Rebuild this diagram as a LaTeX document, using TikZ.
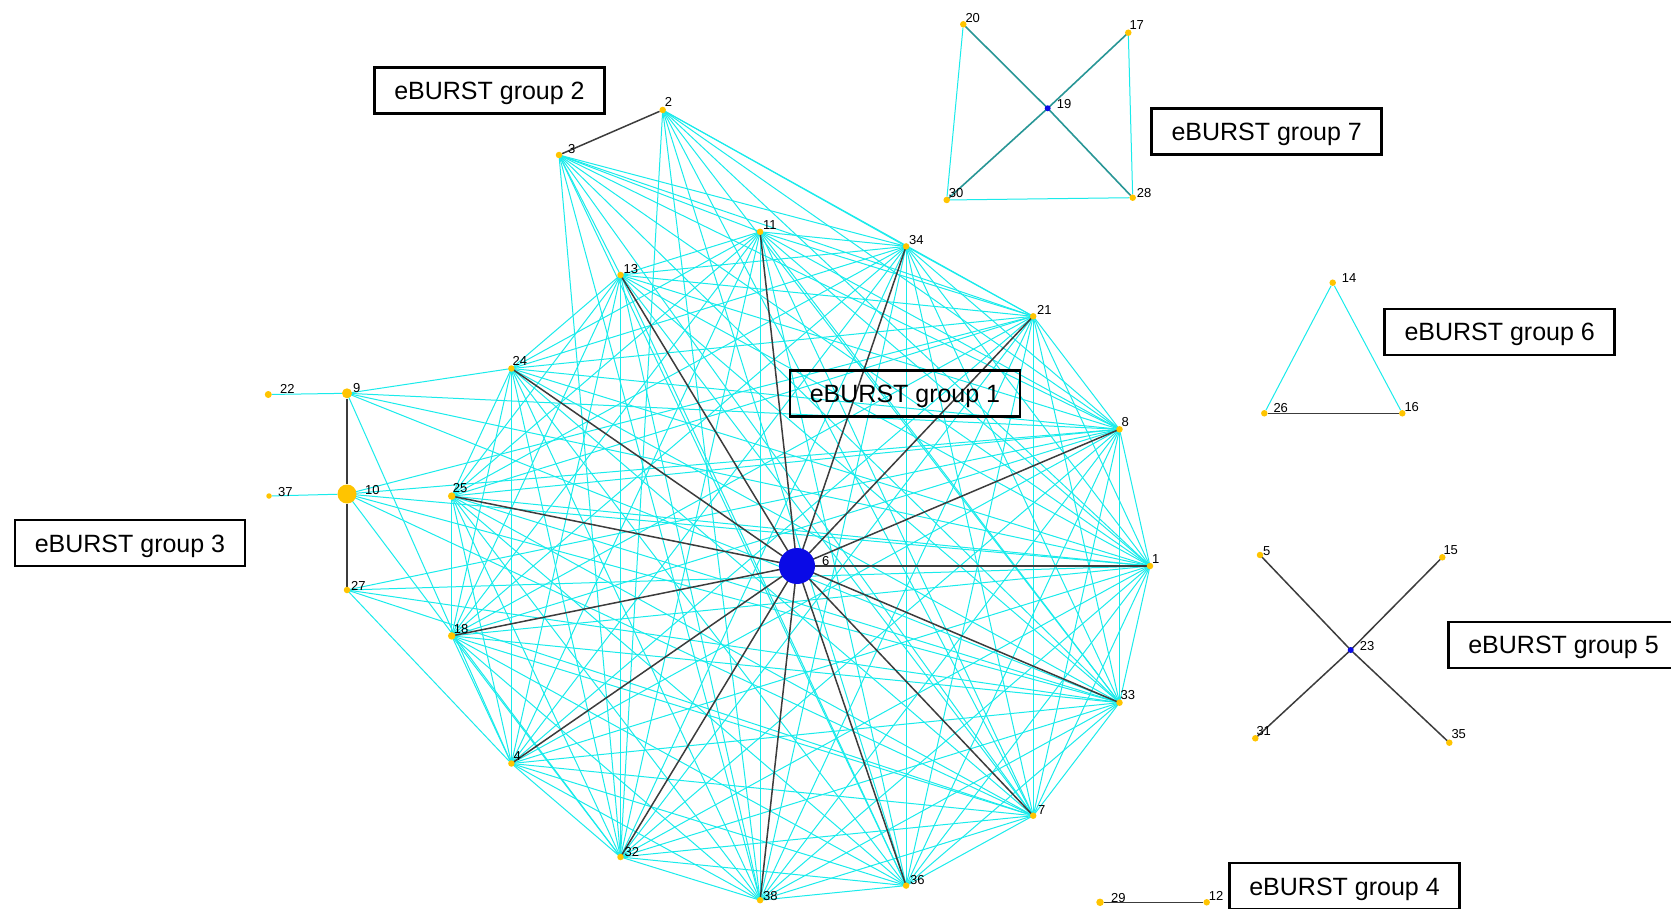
\documentclass[tikz,border=0pt]{standalone}
\usepackage{fontspec}
\setmainfont{Liberation Sans}
\pgfdeclarelayer{edges}
\pgfsetlayers{edges,main}
\definecolor{dotc}{RGB}{255,196,0}
\definecolor{cyanl}{RGB}{25,235,235}
\definecolor{darkl}{RGB}{60,60,60}
\definecolor{bluen}{RGB}{10,10,230}
\definecolor{tealc}{RGB}{40,150,150}
\begin{document}
\begin{tikzpicture}[x=1pt,y=-1pt,
 dot/.style={circle,fill=dotc,inner sep=0pt,minimum size=6.5pt},
 bdot/.style={circle,fill=bluen,inner sep=0pt,minimum size=6pt},
 lbl/.style={anchor=base west,inner sep=0pt,font=\fontsize{13}{13}\selectfont},
 cy/.style={draw=cyanl,line width=1pt},
 dk/.style={draw=darkl,line width=1.5pt},
 tl/.style={draw=tealc,line width=1.6pt},
 gbox/.style={draw=black,line width=2.6pt,minimum width=230pt,minimum height=46pt,inner sep=0pt,text height=20pt,text depth=2pt,font=\fontsize{25}{30}\selectfont}]
\useasboundingbox (0,0) rectangle (1671,909);

% ---- group 1 ----
\node[circle,fill=bluen,inner sep=0pt,minimum size=36pt] (n6) at (797,566) {};
\node[lbl] (l6) at (822,565) {6};
\node[dot] (n1) at (1150,566) {};   \node[lbl] (l1) at (1152,563) {1};
\node[dot] (n8) at (1119.5,429.3) {}; \node[lbl] (l8) at (1121.5,426.5) {8};
\node[dot] (n21) at (1033.2,316.3) {}; \node[lbl] (l21) at (1037,314.5) {21};
\node[dot] (n34) at (906.1,246.4) {}; \node[lbl] (l34) at (909,244.5) {34};
\node[dot] (n11) at (760.1,231.8) {}; \node[lbl] (l11) at (763,229.8) {11};
\node[dot] (n13) at (620.5,275.0) {}; \node[lbl] (l13) at (623.5,274) {13};
\node[dot] (n24) at (511.4,368.5) {}; \node[lbl] (l24) at (512.4,365.5) {24};
\node[dot,minimum size=7.5pt] (n25) at (451.7,496.1) {}; \node[lbl] (l25) at (452.7,492) {25};
\node[dot,minimum size=7.5pt] (n18) at (451.7,635.9) {}; \node[lbl] (l18) at (453.7,633) {18};
\node[dot] (n4) at (511.4,763.5) {}; \node[lbl] (l4) at (513.4,760.5) {4};
\node[dot] (n32) at (620.5,857.0) {}; \node[lbl] (l32) at (624.5,856) {32};
\node[dot] (n38) at (760.1,900.2) {}; \node[lbl] (l38) at (763,900.5) {38};
\node[dot] (n36) at (906.1,885.6) {}; \node[lbl] (l36) at (910,884.6) {36};
\node[dot] (n7) at (1033.2,815.7) {}; \node[lbl] (l7) at (1038,814.7) {7};
\node[dot] (n33) at (1119.5,702.7) {}; \node[lbl] (l33) at (1120.5,699.7) {33};

% ---- group 2 ----
\node[dot] (n2) at (662.7,110) {}; \node[lbl] (l2) at (664.7,107) {2};
\node[dot] (n3) at (559,155) {};   \node[lbl] (l3) at (568,154) {3};

% ---- group 3 ----
\node[dot,minimum size=10pt] (n9) at (347,393.3) {}; \node[lbl] (l9) at (353,392.3) {9};
\node[dot,minimum size=19pt] (n10) at (347,494) {}; \node[lbl] (l10) at (365,494) {10};
\node[dot] (n27) at (347,590) {}; \node[lbl] (l27) at (351,590) {27};
\node[dot,minimum size=7pt] (n22) at (268.3,394.5) {}; \node[lbl] (l22) at (280,393.5) {22};
\node[dot,minimum size=5.5pt] (n37) at (269,496) {}; \node[lbl] (l37) at (278,496) {37};

% ---- group 7 ----
\node[dot] (n20) at (963.3,24.3) {}; \node[lbl] (l20) at (965.3,22.3) {20};
\node[dot] (n17) at (1128.3,32.7) {}; \node[lbl] (l17) at (1129.3,29.7) {17};
\node[bdot] (n19) at (1047.7,108.3) {}; \node[lbl] (l19) at (1056.7,108.3) {19};
\node[dot] (n30) at (946.7,200) {}; \node[lbl] (l30) at (948.7,198) {30};
\node[dot] (n28) at (1132.7,197.7) {}; \node[lbl] (l28) at (1136.7,197.7) {28};

% ---- group 6 ----
\node[dot] (n14) at (1332.7,282.7) {}; \node[lbl] (l14) at (1341.7,282.7) {14};
\node[dot] (n26) at (1264.3,413.3) {}; \node[lbl] (l26) at (1273.3,412.3) {26};
\node[dot] (n16) at (1402.3,413.3) {}; \node[lbl] (l16) at (1404.3,411.3) {16};

% ---- group 5 ----
\node[dot] (n5) at (1260,555) {}; \node[lbl] (l5) at (1263,555) {5};
\node[dot] (n15) at (1442.3,557.3) {}; \node[lbl] (l15) at (1443.3,554.3) {15};
\node[bdot] (n23) at (1350.7,650) {}; \node[lbl] (l23) at (1359.7,650) {23};
\node[dot] (n31) at (1255.3,738.3) {}; \node[lbl] (l31) at (1256.3,735.3) {31};
\node[dot] (n35) at (1449.3,742.7) {}; \node[lbl] (l35) at (1451.3,738.7) {35};

% ---- group 4 ----
\node[dot,minimum size=7.5pt] (n29) at (1100,902.3) {}; \node[lbl] (l29) at (1111,902.3) {29};
\node[dot] (n12) at (1206.7,902.3) {}; \node[lbl] (l12) at (1208.7,900.3) {12};

% ---- boxes ----
\node[gbox] (g1) at (905,393.5) {eBURST group 1};
\node[gbox] (g2) at (489.5,90.5) {eBURST group 2};
\node[gbox] (g3) at (130,543) {eBURST group 3};
\node[gbox] (g4) at (1344.5,886) {eBURST group 4};
\node[gbox] (g5) at (1563.5,644.8) {eBURST group 5};
\node[gbox] (g6) at (1499.7,332) {eBURST group 6};
\node[gbox] (g7) at (1266.7,131.7) {eBURST group 7};

\begin{pgfonlayer}{edges}
% complete graph of DLV links among the ring
\foreach \a [count=\i] in {1,8,21,34,11,13,24,25,18,4,32,38,36,7,33}{
  \foreach \b [count=\j] in {1,8,21,34,11,13,24,25,18,4,32,38,36,7,33}{
    \ifnum\j>\i \draw[cy] (n\a.center) -- (n\b.center); \fi
  }
}
\foreach \b in {34,21,8,1,33,7,36,38,32} \draw[cy] (n2.center) -- (n\b.center);
\foreach \b in {13,11,34,21,8,1,33,7,36,38,32} \draw[cy] (n3.center) -- (n\b.center);
\foreach \b in {24,8,1,33,4} \draw[cy] (n9.center) -- (n\b.center);
\foreach \b in {21,8,1,33,7,32} \draw[cy] (n10.center) -- (n\b.center);
\foreach \b in {8,1,33,7,4} \draw[cy] (n27.center) -- (n\b.center);
\draw[cy] (n22) -- (n9);
\draw[cy] (n37) -- (n10);
\draw[cy] (n20) -- (n30);
\draw[cy] (n17) -- (n28);
\draw[cy] (n30) -- (n28);
\draw[cy] (n14) -- (n26);
\draw[cy] (n14) -- (n16);
% SLV links
\foreach \b in {1,8,21,34,11,13,24,25,18,4,32,38,36,7,33} \draw[dk] (n6.center) -- (n\b.center);
\draw[dk] (n2) -- (n3);
\draw[dk] (n9) -- (n10);
\draw[dk] (n10) -- (n27);
\draw[dk] (n26) -- (n16);
\foreach \b in {5,15,31,35} \draw[dk] (n23.center) -- (n\b.center);
\draw[dk] (n29) -- (n12);
\foreach \b in {20,28,17,30} \draw[tl] (n19.center) -- (n\b.center);
\end{pgfonlayer}
\end{tikzpicture}
\end{document}
